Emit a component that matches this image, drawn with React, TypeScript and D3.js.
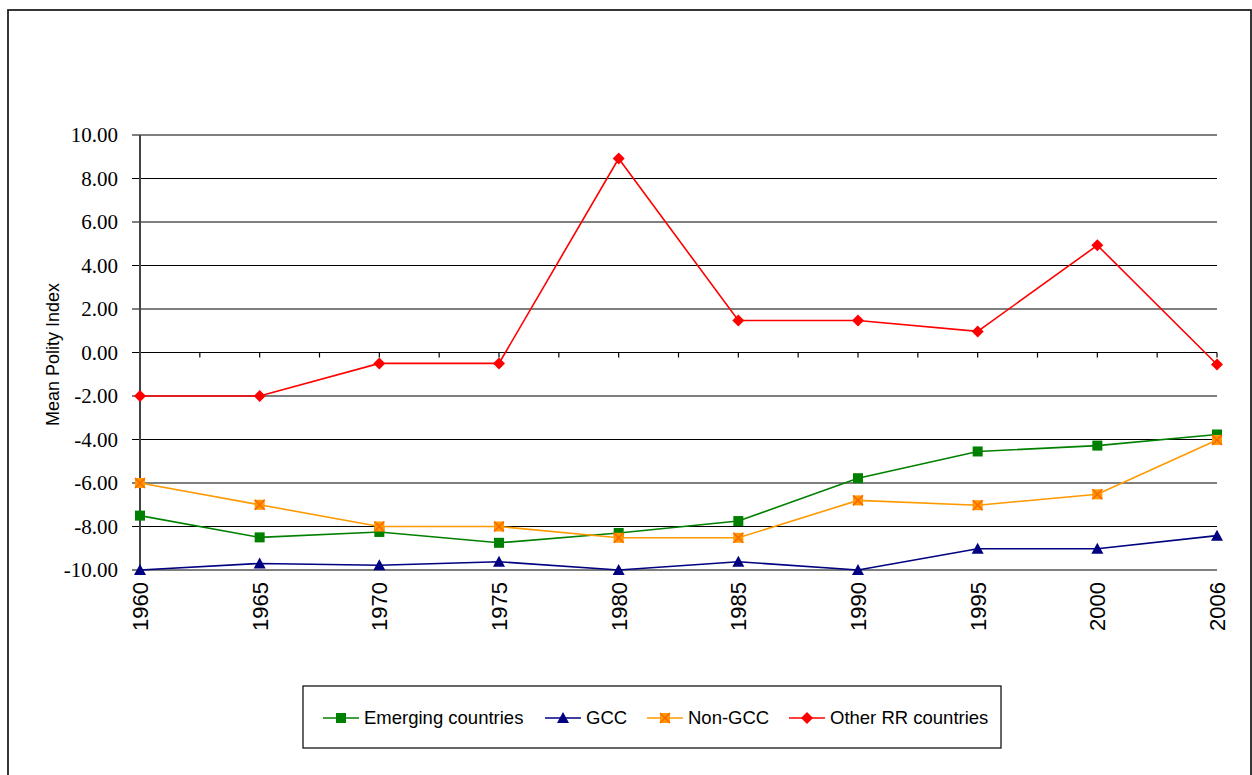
import * as d3 from 'd3';

const YEARS = ['1960', '1965', '1970', '1975', '1980', '1985', '1990', '1995', '2000', '2006'];
const EMERGING = [-7.5, -8.5, -8.25, -8.75, -8.3, -7.75, -5.78, -4.55, -4.28, -3.77];
const GCC = [-10, -9.7, -9.78, -9.62, -10, -9.62, -10, -9.02, -9.02, -8.42];
const NON_GCC = [-6, -7, -8, -8, -8.52, -8.52, -6.8, -7.02, -6.52, -4.02];
const OTHER_RR = [-2, -2, -0.5, -0.5, 8.92, 1.47, 1.47, 0.97, 4.93, -0.55];
const Y_TICKS = [10, 8, 6, 4, 2, 0, -2, -4, -6, -8, -10];

type Marker = 'square' | 'triangle' | 'xsquare' | 'diamond';
type Series = { name: string; values: number[]; color: string; marker: Marker };

const SERIES: Series[] = [
  { name: 'Emerging countries', values: EMERGING, color: '#008000', marker: 'square' },
  { name: 'GCC', values: GCC, color: '#000080', marker: 'triangle' },
  { name: 'Non-GCC', values: NON_GCC, color: '#FF9900', marker: 'xsquare' },
  { name: 'Other RR countries', values: OTHER_RR, color: '#FF0000', marker: 'diamond' },
];

// draw order: GCC under, red on top
const DRAW_ORDER = [1, 0, 2, 3];

const W = 1252;
const H = 775;
const PLOT = { left: 140, right: 1217, top: 135, bottom: 570 };
const SERIF = 'Liberation Serif, Times New Roman, Times, DejaVu Serif, serif';
const SANS = 'Liberation Sans, Arial, Helvetica, sans-serif';

// plain hyphen for negatives, like the original
const fmt = d3.formatLocale({ decimal: '.', thousands: ',', grouping: [3], currency: ['', ''], minus: '-' }).format('.2f');

const Mark = ({ x, y, s }: { x: number; y: number; s: Series }) => {
  if (s.marker === 'square') {
    return <rect x={x - 5} y={y - 5} width={10} height={10} fill={s.color} />;
  }
  if (s.marker === 'triangle') {
    return <path d={`M${x},${y - 6}L${x + 6},${y + 5}L${x - 6},${y + 5}Z`} fill={s.color} />;
  }
  if (s.marker === 'xsquare') {
    return (
      <g>
        <rect x={x - 5} y={y - 5} width={10} height={10} fill={s.color} />
        <path d={`M${x - 5},${y - 5}L${x + 5},${y + 5}M${x + 5},${y - 5}L${x - 5},${y + 5}`} stroke='#FF6600' strokeWidth={1.5} />
      </g>
    );
  }
  return <path d={`M${x},${y - 6}L${x + 6},${y}L${x},${y + 6}L${x - 6},${y}Z`} fill={s.color} />;
};

export default function App() {
  const x = d3.scalePoint<string>().domain(YEARS).range([PLOT.left, PLOT.right]);
  const y = d3.scaleLinear().domain([-10, 10]).range([PLOT.bottom, PLOT.top]);
  const step = x.step();

  const line = d3
    .line<number>()
    .x((_, i) => x(YEARS[i]) as number)
    .y((d) => y(d));

  // minor ticks on the zero line: at categories and half way between them
  const zeroTicks: number[] = [];
  YEARS.forEach((yr, i) => {
    const px = x(yr) as number;
    if (i > 0) zeroTicks.push(px);
    if (i < YEARS.length - 1) zeroTicks.push(px + step / 2);
  });

  const legendItems = [
    { s: SERIES[0], lx: 323, tx: 364 },
    { s: SERIES[1], lx: 545, tx: 586 },
    { s: SERIES[2], lx: 647, tx: 688 },
    { s: SERIES[3], lx: 789, tx: 830 },
  ];
  const legendY = 718;

  return (
    <svg width={W} height={H} style={{ position: 'absolute', left: 0, top: 0, background: '#fff' }}>
      <rect x={8} y={10} width={1243} height={H} fill='#fff' stroke='#222' strokeWidth={1.8} />

      {/* gridlines */}
      {Y_TICKS.map((t) => (
        <g key={t}>
          <line x1={132} x2={PLOT.right} y1={y(t)} y2={y(t)} stroke='#000' strokeWidth={1.2} />
          <text
            x={118}
            y={y(t)}
            dy='0.35em'
            textAnchor='end'
            style={{ fontFamily: SERIF, fontSize: 21 }}
            fill='#000'
          >
            {fmt(t)}
          </text>
        </g>
      ))}

      {/* y axis */}
      <line x1={PLOT.left} x2={PLOT.left} y1={PLOT.top} y2={PLOT.bottom} stroke='#444' strokeWidth={2} />

      {/* x axis at zero */}
      {zeroTicks.map((px, i) => (
        <line key={i} x1={px} x2={px} y1={y(0)} y2={y(0) + 5} stroke='#000' strokeWidth={1.2} />
      ))}

      {/* x labels */}
      {YEARS.map((yr) => (
        <text
          key={yr}
          transform={`translate(${(x(yr) as number) + 8},582) rotate(-90)`}
          textAnchor='end'
          style={{ fontFamily: SANS, fontSize: 22 }}
          fill='#000'
        >
          {yr}
        </text>
      ))}

      <text
        transform={`translate(59,${(PLOT.top + PLOT.bottom) / 2 + 2}) rotate(-90)`}
        textAnchor='middle'
        style={{ fontFamily: SANS, fontSize: 18 }}
        fill='#000'
      >
        Mean Polity Index
      </text>

      {/* series */}
      {DRAW_ORDER.map((k) => {
        const s = SERIES[k];
        return (
          <g key={s.name}>
            <path d={line(s.values) || ''} fill='none' stroke={s.color} strokeWidth={1.6} />
            {s.values.map((v, i) => (
              <Mark key={i} x={x(YEARS[i]) as number} y={y(v)} s={s} />
            ))}
          </g>
        );
      })}

      {/* legend */}
      <rect x={303} y={686} width={698} height={62} fill='#fff' stroke='#000' strokeWidth={1.2} />
      {legendItems.map(({ s, lx, tx }) => (
        <g key={s.name}>
          <line x1={lx} x2={lx + 36} y1={legendY} y2={legendY} stroke={s.color} strokeWidth={1.6} />
          <Mark x={lx + 18} y={legendY} s={s} />
          <text
            x={tx}
            y={legendY}
            dy='0.35em'
            style={{ fontFamily: SANS, fontSize: 18.5 }}
            fill='#000'
          >
            {s.name}
          </text>
        </g>
      ))}
    </svg>
  );
}
